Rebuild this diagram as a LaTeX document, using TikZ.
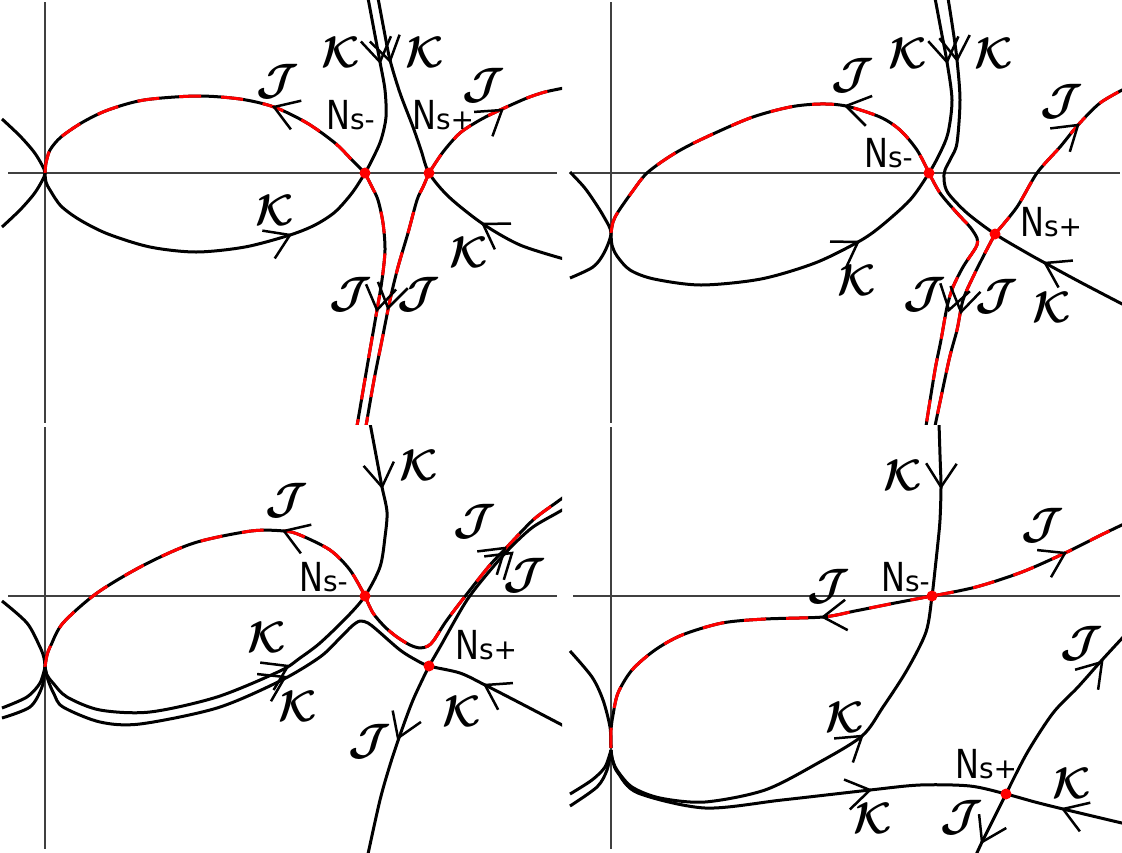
\documentclass[tikz,border=0pt]{standalone}
\usepackage{fontspec}
\newfontfamily\labfont{DejaVu Sans}
\usetikzlibrary{calc}
\tikzset{
 curve/.style={line width=3pt, draw=black, line join=round},
 jcurve/.style={curve, postaction={draw=red, line width=3pt, dash pattern=on 22pt off 20pt}},
 axis/.style={line width=1.3pt, draw=black!75},
 arrowline/.style={line width=2.5pt, draw=black, line join=miter, line cap=butt},
 saddle/.style={circle, fill=red, inner sep=0pt, minimum size=11pt},
 cal/.style={inner sep=0pt},
 nlab/.style={inner sep=0pt, anchor=base west},
}
\newcommand{\NS}[1]{{\labfont\fontsize{40}{40}\selectfont\scalebox{0.8}[1]{N}\fontsize{28}{28}\selectfont s#1}}
\newcommand{\CJ}{\scalebox{4.4}{\boldmath$\mathcal{J}$}}
\newcommand{\CK}{\scalebox{4.4}{\boldmath$\mathcal{K}$}}
\newcommand{\vtip}[2]{\draw[arrowline] ($#1+(#2+147:28)$) -- #1 -- ($#1+(#2+213:28)$);}
\begin{document}
\begin{tikzpicture}[x=1pt,y=-1pt]
\useasboundingbox (0,0) rectangle (1122,852);
\fill[white] (0,0) rectangle (1122,852);
% axes
\draw[axis] (8,173) -- (557,173);
\draw[axis] (45,2) -- (45,423);
\draw[axis] (573,173) -- (1120,173);
\draw[axis] (611,2) -- (611,423);
\draw[axis] (8,596) -- (557,596);
\draw[axis] (45,427) -- (45,849);
\draw[axis] (573,596) -- (1120,596);
\draw[axis] (611,427) -- (611,849);

% ---------------- panel 1 ----------------
\begin{scope}
\clip (0,0) rectangle (562,424);
\draw[curve] plot[smooth] coordinates {(2,119) (20,136) (34,152) (42,165) (45,173) (42,181) (34,194) (20,210) (2,227)};
\draw[jcurve] plot[smooth] coordinates {(45,173) (46,163) (50,150) (61,137) (83,122) (108,110) (144,100) (197,96) (240,99) (274,107) (307,123) (335,143) (352,160) (365,173)};
\draw[curve] plot[smooth] coordinates {(368,-2) (374,30) (380,62) (385,90) (386,117) (381,140) (373,158) (365,173) (352,193) (335,212) (315,225) (290,235) (245,247) (196,252) (150,247) (108,234) (80,220) (61,206) (50,190) (46,182) (45,173)};
\draw[curve] plot[smooth] coordinates {(378,-2) (384,30) (390,60) (400,93) (413,127) (421,150) (429,173) (449,197) (483,224) (520,245) (564,259)};
\draw[jcurve] plot[smooth] coordinates {(365,173) (372,187) (378,200) (383,223) (385,250) (382,280) (377,310) (370,350) (364,385) (357,426)};
\draw[jcurve] plot[smooth] coordinates {(429,173) (423,187) (417,200) (408,233) (398,267) (390,300) (382,340) (374,380) (366,426)};
\draw[jcurve] plot[smooth] coordinates {(429,173) (443,152) (460,133) (480,120) (500,110) (527,98) (545,92) (564,88)};
\end{scope}
\vtip{(274,107)}{200}
\vtip{(290,235)}{-24}
\vtip{(380,62)}{80}
\vtip{(390,61)}{77}
\vtip{(483,224)}{212}
\vtip{(502,110)}{-37}
\vtip{(377,310)}{100}
\vtip{(388,308)}{102}
\node[saddle] (s1m) at (365,173) {};
\node[saddle] (s1p) at (429,173) {};
\node[nlab] (n1m) at (326,129) {\NS{-}};
\node[nlab] (n1p) at (412,129) {\NS{+}};
\node[cal] (j1a) at (278,82) {\CJ};
\node[cal] (k1a) at (275,210) {\CK};
\node[cal] (k1b) at (341,52) {\CK};
\node[cal] (k1c) at (425,52) {\CK};
\node[cal] (j1b) at (484,86) {\CJ};
\node[cal] (k1d) at (469,252) {\CK};
\node[cal] (j1c) at (351,295) {\CJ};
\node[cal] (j1d) at (419,295) {\CJ};

% ---------------- panel 2 ----------------
\begin{scope}
\clip (566,0) rectangle (1122,424);
\draw[curve] plot[smooth] coordinates {(570,172) (584,187) (594,201) (604,217) (611,233) (604,253) (593,267) (570,278)};
\draw[jcurve] plot[smooth] coordinates {(611,233) (613,222) (618,212) (632,192) (647,173) (672,155) (700,140) (750,118) (790,107) (820,104) (846,106) (880,117) (900,130) (917,150) (929,173)};
\draw[curve] plot[smooth] coordinates {(935,-2) (941,30) (947,62) (952,100) (948,133) (940,153) (929,173) (910,200) (880,227) (858,242) (815,263) (761,279) (701,285) (654,279) (630,270) (617,256) (612,245) (611,233)};
\draw[curve] plot[smooth] coordinates {(948,-2) (953,30) (957,60) (960,100) (957,143) (951,158) (945,170) (944,180) (948,193) (967,213) (995,234) (1027,253) (1045,263) (1080,282) (1126,306)};
\draw[jcurve] plot[smooth] coordinates {(929,173) (940,193) (957,213) (970,227) (977,238) (977,245) (973,252) (963,267) (953,287) (947,307) (941,340) (935,370) (926,426)};
\draw[jcurve] plot[smooth] coordinates {(995,234) (985,253) (973,277) (963,300) (957,330) (949,360) (935,426)};
\draw[jcurve] plot[smooth] coordinates {(995,234) (1017,207) (1037,173) (1060,147) (1078,125) (1100,103) (1126,88)};
\end{scope}
\vtip{(846,106)}{192}
\vtip{(858,242)}{-32}
\vtip{(947,62)}{81}
\vtip{(957,60)}{84}
\vtip{(1045,263)}{208}
\vtip{(1078,125)}{-40}
\vtip{(949,310)}{105}
\vtip{(961,312)}{101}
\node[saddle] (s2m) at (929,173) {};
\node[saddle] (s2p) at (995,234) {};
\node[nlab] (n2m) at (864,167) {\NS{-}};
\node[nlab] (n2p) at (1020,236) {\NS{+}};
\node[cal] (j2a) at (853,76) {\CJ};
\node[cal] (k2a) at (857,280) {\CK};
\node[cal] (k2b) at (908,53) {\CK};
\node[cal] (k2c) at (994,53) {\CK};
\node[cal] (j2b) at (1062,102) {\CJ};
\node[cal] (k2d) at (1052,307) {\CK};
\node[cal] (j2c) at (925,295) {\CJ};
\node[cal] (j2d) at (997,297) {\CJ};

% ---------------- panel 3 ----------------
\begin{scope}
\clip (0,425) rectangle (562,852);
\draw[curve] plot[smooth] coordinates {(2,601) (27,623) (40,647) (44,658) (45,667)};
\draw[curve] plot[smooth] coordinates {(2,708) (27,697) (40,683) (45,667)};
\draw[curve] plot[smooth] coordinates {(2,718) (30,707) (42,687) (45,667)};
\draw[jcurve] plot[smooth] coordinates {(45,667) (47,655) (51,645) (63,623) (97,593) (144,565) (194,543) (251,531) (284,531) (300,535) (330,550) (350,570) (365,596)};
\draw[curve] plot[smooth] coordinates {(370,423) (376,455) (382,487) (387,512) (385,537) (380,567) (365,596) (347,617) (320,643) (300,658) (280,671) (217,697) (150,712) (100,710) (67,697) (53,683) (47,675) (45,667)};
\draw[curve] plot[smooth] coordinates {(45,667) (48,680) (54,694) (63,707) (100,722) (140,724) (217,708) (280,681) (320,657) (340,638) (352,626) (360,621) (368,623) (377,630) (400,650) (416,660) (429,666) (460,673) (485,685) (520,703) (564,726)};
\draw[jcurve] plot[smooth] coordinates {(365,596) (373,613) (385,627) (397,637) (410,645) (420,648) (428,646) (434,640) (447,620) (470,590) (490,565) (507,547) (533,520) (557,502) (564,497)};
\draw[curve] plot[smooth] coordinates {(429,666) (440,647) (467,600) (493,567) (513,545) (533,527) (557,513) (564,509)};
\draw[curve] plot[smooth] coordinates {(429,666) (413,700) (400,735) (390,765) (380,800) (368,854)};
\end{scope}
\vtip{(284,531)}{200}
\vtip{(382,487)}{82}
\vtip{(288,666)}{-26}
\vtip{(285,677)}{-27}
\vtip{(505,548)}{-40}
\vtip{(512,553)}{-40}
\vtip{(398,738)}{112}
\vtip{(485,685)}{209}
\node[saddle] (s3m) at (365,596) {};
\node[saddle] (s3p) at (429,666) {};
\node[nlab] (n3m) at (299,591) {\NS{-}};
\node[nlab] (n3p) at (455,659) {\NS{+}};
\node[cal] (j3a) at (287,501) {\CJ};
\node[cal] (k3a) at (419,465) {\CK};
\node[cal] (k3b) at (267,637) {\CK};
\node[cal] (k3c) at (298,706) {\CK};
\node[cal] (j3b) at (475,522) {\CJ};
\node[cal] (j3c) at (525,576) {\CJ};
\node[cal] (k3d) at (462,711) {\CK};
\node[cal] (j3d) at (370,742) {\CJ};

% ---------------- panel 4 ----------------
\begin{scope}
\clip (566,425) rectangle (1122,852);
\draw[curve] plot[smooth] coordinates {(570,651) (592,677) (603,700) (610,727) (611,748)};
\draw[curve] plot[smooth] coordinates {(570,794) (592,780) (605,767) (611,750)};
\draw[curve] plot[smooth] coordinates {(570,806) (597,787) (607,770) (611,750)};
\draw[jcurve] plot[smooth] coordinates {(932,596) (895,603) (855,611) (823,617) (765,619) (722,623) (682,635) (655,650) (632,670) (618,693) (613,715) (611,730) (611,748)};
\draw[jcurve] plot[smooth] coordinates {(932,596) (976,587) (1022,572) (1065,553) (1101,535) (1126,523)};
\draw[curve] plot[smooth] coordinates {(939,423) (940,455) (941,487) (940,520) (938,542) (935,570) (932,596) (926,632) (907,670) (883,707) (862,736) (818,763) (765,790) (705,802) (660,798) (632,787) (617,770) (612,758) (611,750)};
\draw[curve] plot[smooth] coordinates {(611,750) (613,762) (618,773) (638,793) (705,808) (782,800) (870,790) (920,785) (970,786) (1006,794) (1035,802) (1063,809) (1126,824)};
\draw[curve] plot[smooth] coordinates {(1006,794) (1027,753) (1053,713) (1078,687) (1102,660) (1126,634)};
\draw[curve] plot[smooth] coordinates {(1006,794) (994,818) (982,842) (976,855)};
\end{scope}
\vtip{(941,487)}{91}
\vtip{(823,617)}{175}
\vtip{(1065,553)}{-27}
\vtip{(862,736)}{-38}
\vtip{(870,790)}{-11}
\vtip{(1063,809)}{200}
\vtip{(1102,662)}{-49}
\vtip{(982,842)}{117}
\node[saddle] (s4m) at (932,596) {};
\node[saddle] (s4p) at (1006,794) {};
\node[nlab] (n4m) at (881,591) {\NS{-}};
\node[nlab] (n4p) at (955,778) {\NS{+}};
\node[cal] (k4a) at (903,475) {\CK};
\node[cal] (j4a) at (829,587) {\CJ};
\node[cal] (j4b) at (1043,526) {\CJ};
\node[cal] (k4b) at (845,717) {\CK};
\node[cal] (j4c) at (1082,644) {\CJ};
\node[cal] (k4c) at (1072,783) {\CK};
\node[cal] (k4d) at (873,818) {\CK};
\node[cal] (j4d) at (962,818) {\CJ};
\end{tikzpicture}
\end{document}
